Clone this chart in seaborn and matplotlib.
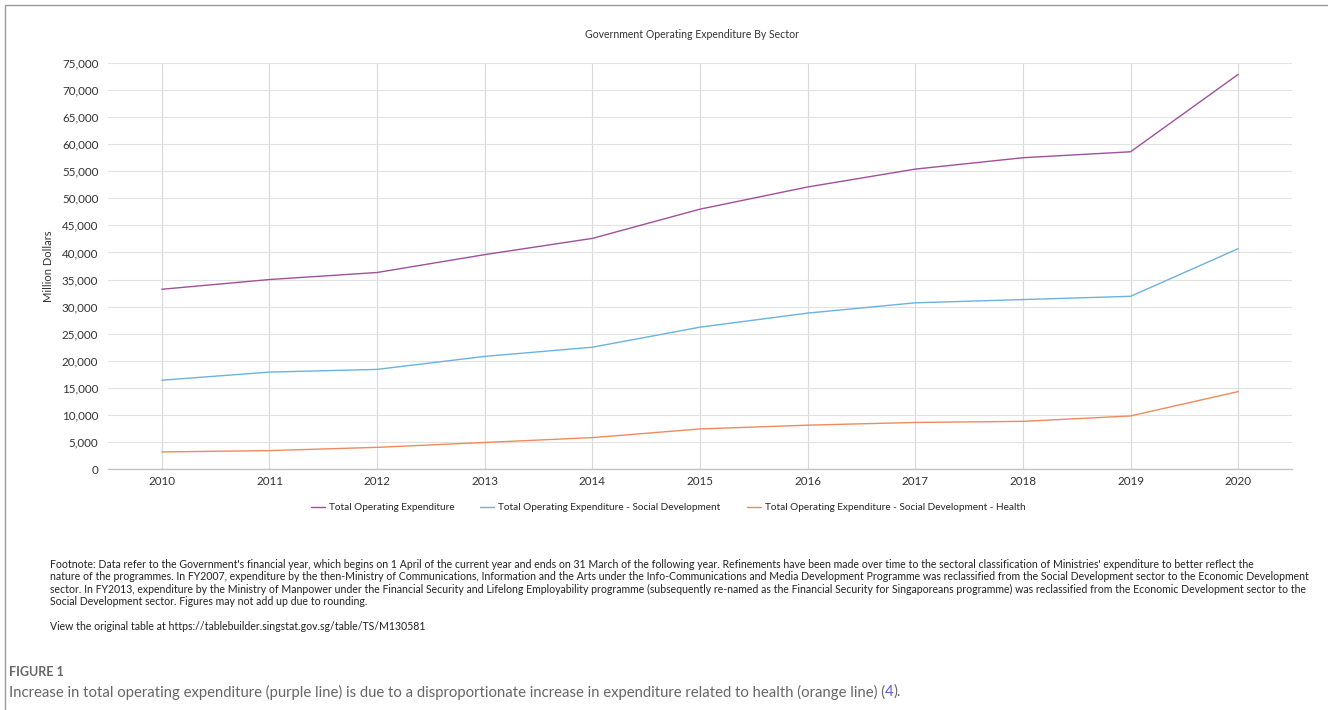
import pandas as pd
import seaborn as sns
import matplotlib.pyplot as plt
from matplotlib.lines import Line2D
from matplotlib.ticker import FuncFormatter

# data (million dollars)
years = [2010, 2011, 2012, 2013, 2014, 2015, 2016, 2017, 2018, 2019, 2020]
total = [33200, 35000, 36300, 39600, 42600, 48000, 52100, 55400, 57500, 58600, 72900]
social = [16400, 17900, 18400, 20800, 22500, 26200, 28800, 30700, 31300, 31900, 40700]
health = [3150, 3400, 4000, 4900, 5800, 7400, 8100, 8600, 8800, 9800, 14300]

series_names = [
    "Total Operating Expenditure",
    "Total Operating Expenditure - Social Development",
    "Total Operating Expenditure - Social Development - Health",
]
series_colors = ["#a0509a", "#6cb2dd", "#ef8a60"]

footnote_lines = [
    "Footnote: Data refer to the Government's financial year, which begins on 1 April of the current year and ends on 31 March of the following year. Refinements have been made over time to the sectoral classification of Ministries' expenditure to better reflect the",
    "nature of the programmes. In FY2007, expenditure by the then-Ministry of Communications, Information and the Arts under the Info-Communications and Media Development Programme was reclassified from the Social Development sector to the Economic Development",
    "sector. In FY2013, expenditure by the Ministry of Manpower under the Financial Security and Lifelong Employability programme (subsequently re-named as the Financial Security for Singaporeans programme) was reclassified from the Economic Development sector to the",
    "Social Development sector. Figures may not add up due to rounding.",
]

# long-form table for seaborn
df = pd.DataFrame({
    "Year": years * 3,
    "Value": total + social + health,
    "Series": [series_names[0]] * len(years) + [series_names[1]] * len(years) + [series_names[2]] * len(years),
})

sns.set_theme(style="whitegrid")
plt.rcParams["font.family"] = ["Lato", "DejaVu Sans"]

W, H = 1328, 710
fig = plt.figure(figsize=(W / 100, H / 100), dpi=100)
ax = fig.add_axes([108 / W, 1 - 469 / H, (1292 - 108) / W, (469 - 63) / H])

sns.lineplot(data=df, x="Year", y="Value", hue="Series", palette=series_colors,
             linewidth=1.0, ax=ax)

ax.set_xlim(2009.5, 2020.5)
ax.set_ylim(0, 75000)
ax.set_xticks(years)
ax.set_yticks(range(0, 75001, 5000))
ax.yaxis.set_major_formatter(FuncFormatter(lambda v, p: f"{int(v):,}"))
ax.tick_params(axis="both", length=0, labelsize=8.4, colors="#333333")
ax.tick_params(axis="y", pad=7)
ax.tick_params(axis="x", pad=5)
ax.grid(True, color="#e2e2e2", linewidth=0.8)
ax.xaxis.grid(True, color="#d9d9d9", linewidth=0.8)
for side in ["top", "right", "left"]:
    ax.spines[side].set_visible(False)
ax.spines["bottom"].set_color("#c4c4c4")
ax.spines["bottom"].set_linewidth(1.0)
ax.set_xlabel("")
ax.set_ylabel("Million Dollars", fontsize=8, color="#333333")
ax.yaxis.set_label_coords(-54 / (1292 - 108), 0.5)

sns.move_legend(ax, "center", bbox_to_anchor=(668 / W, 1 - 508 / H),
                bbox_transform=fig.transFigure, ncol=3, frameon=False, title=None,
                fontsize=7.2, handlelength=1.4, handletextpad=0.4, columnspacing=2.6)

# title
fig.text(692 / W, 1 - 35 / H, "Government Operating Expenditure By Sector",
         ha="center", va="center", fontsize=7.6, color="#333333")

# footnote
fig.text(50 / W, 1 - 559 / H, "\n".join(footnote_lines), ha="left", va="top",
         fontsize=7.6, color="#222222", linespacing=1.15)
fig.text(50 / W, 1 - 626 / H,
         "View the original table at https://tablebuilder.singstat.gov.sg/table/TS/M130581",
         ha="left", va="center", fontsize=7.6, color="#222222")

# frame lines around the embedded chart image
fig.add_artist(Line2D([5 / W, 1], [1 - 5 / H, 1 - 5 / H], transform=fig.transFigure,
                      color="#9a9a9a", linewidth=1.0))
fig.add_artist(Line2D([5 / W, 5 / W], [1 - 5 / H, 0], transform=fig.transFigure,
                      color="#9a9a9a", linewidth=1.0))

# figure caption
fig.text(9 / W, 1 - 672 / H, "FIGURE 1", ha="left", va="center", fontsize=9,
         fontweight="bold", color="#666666")
cap = fig.text(9 / W, 1 - 692 / H,
               "Increase in total operating expenditure (purple line) is due to a disproportionate "
               "increase in expenditure related to health (orange line) (",
               ha="left", va="center", fontsize=10.7, color="#666666")
fig.canvas.draw()
bb = cap.get_window_extent()
four = fig.text(bb.x1 / W, 1 - 692 / H, "4", ha="left", va="center", fontsize=10.7,
                color="#5a5ad6")
fig.canvas.draw()
bb2 = four.get_window_extent()
fig.text(bb2.x1 / W, 1 - 692 / H, ").", ha="left", va="center", fontsize=10.7,
         color="#666666")

fig.savefig("out.png", dpi=100)
